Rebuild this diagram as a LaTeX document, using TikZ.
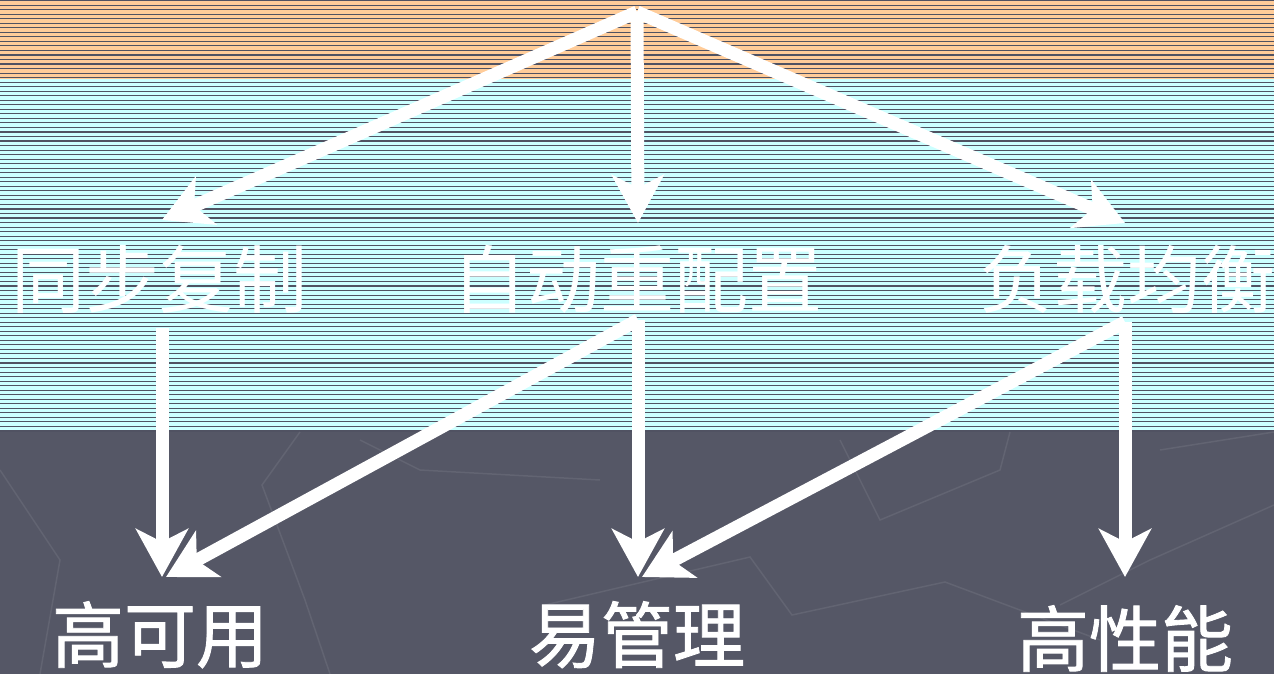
\documentclass[tikz,border=0pt]{standalone}
\usepackage{fontspec}
\newfontfamily\cjk{Noto Sans CJK SC}
\newfontfamily\cjkb[FakeBold=1.2]{Noto Sans CJK SC}
\usetikzlibrary{arrows.meta}
\definecolor{orangebg}{RGB}{255,204,153}
\definecolor{cyanbg}{RGB}{204,255,255}
\definecolor{darkbg}{RGB}{85,87,102}
\definecolor{stripe}{RGB}{80,82,98}
\definecolor{faint}{RGB}{98,100,114}
\tikzset{
  bigarrow/.style={draw=white, line width=13pt, -{Stealth[length=48pt,width=52pt,inset=13pt]}},
  toplabel/.style={text=white, font=\cjk\fontsize{74}{74}\selectfont, anchor=base, inner sep=0pt},
  botlabel/.style={text=white, font=\cjkb\fontsize{72}{72}\selectfont, anchor=base, inner sep=0pt},
  mapline/.style={draw=faint, line width=1.5pt}
}
\begin{document}
\begin{tikzpicture}[x=1pt,y=-1pt]
\clip (0,0) rectangle (1274,674);
% background bands
\fill[orangebg] (0,0) rectangle (1274,79);
\fill[cyanbg] (0,79) rectangle (1274,432);
\fill[darkbg] (0,432) rectangle (1274,674);
\foreach \i in {0,...,95} {
  \draw[stripe, line width=1.1pt] (0,{\i*4.53+0.6}) -- (1274,{\i*4.53+0.6});
}
% faint map lines
\draw[mapline] (300,432) -- (262,485) -- (305,600) -- (330,674);
\draw[mapline] (0,470) -- (60,560) -- (40,674);
\draw[mapline] (545,605) -- (750,557) -- (792,615) -- (945,582) -- (1100,640);
\draw[mapline] (840,440) -- (880,520) -- (1000,470) -- (1010,432);
\draw[mapline] (1060,605) -- (1150,560) -- (1274,505);
\draw[mapline] (1160,450) -- (1274,432);
\draw[mapline] (360,440) -- (420,470) -- (600,480);
% labels
\node[toplabel] (sync) at (160,307) {同步复制};
\node[toplabel] (auto) at (637,307) {自动重配置};
\node[toplabel] (lb) at (1127,307) {负载均衡};
\node[botlabel] (ha) at (160,662) {高可用};
\node[botlabel] (em) at (637,662) {易管理};
\node[botlabel] (hp) at (1125,666) {高性能};
% anchor coordinates
\coordinate (root) at (637,12);
\coordinate (syncIn) at (162,220);
\coordinate (autoIn) at (638,223);
\coordinate (lbIn) at (1125,223);
\coordinate (syncOut) at (162,328);
\coordinate (autoOut) at (638,320);
\coordinate (lbOut) at (1125,322);
\coordinate (haIn1) at (162,577);
\coordinate (haIn2) at (166,577);
\coordinate (emIn1) at (638,577);
\coordinate (emIn2) at (642,577);
\coordinate (hpIn) at (1125,577);
% arrows
\draw[bigarrow] (root) -- (syncIn);
\draw[bigarrow] (root) -- (autoIn);
\draw[bigarrow] (root) -- (lbIn);
\draw[bigarrow] (syncOut) -- (haIn1);
\draw[bigarrow] (autoOut) -- (haIn2);
\draw[bigarrow] (autoOut) -- (emIn1);
\draw[bigarrow] (lbOut) -- (emIn2);
\draw[bigarrow] (lbOut) -- (hpIn);
\end{tikzpicture}
\end{document}
